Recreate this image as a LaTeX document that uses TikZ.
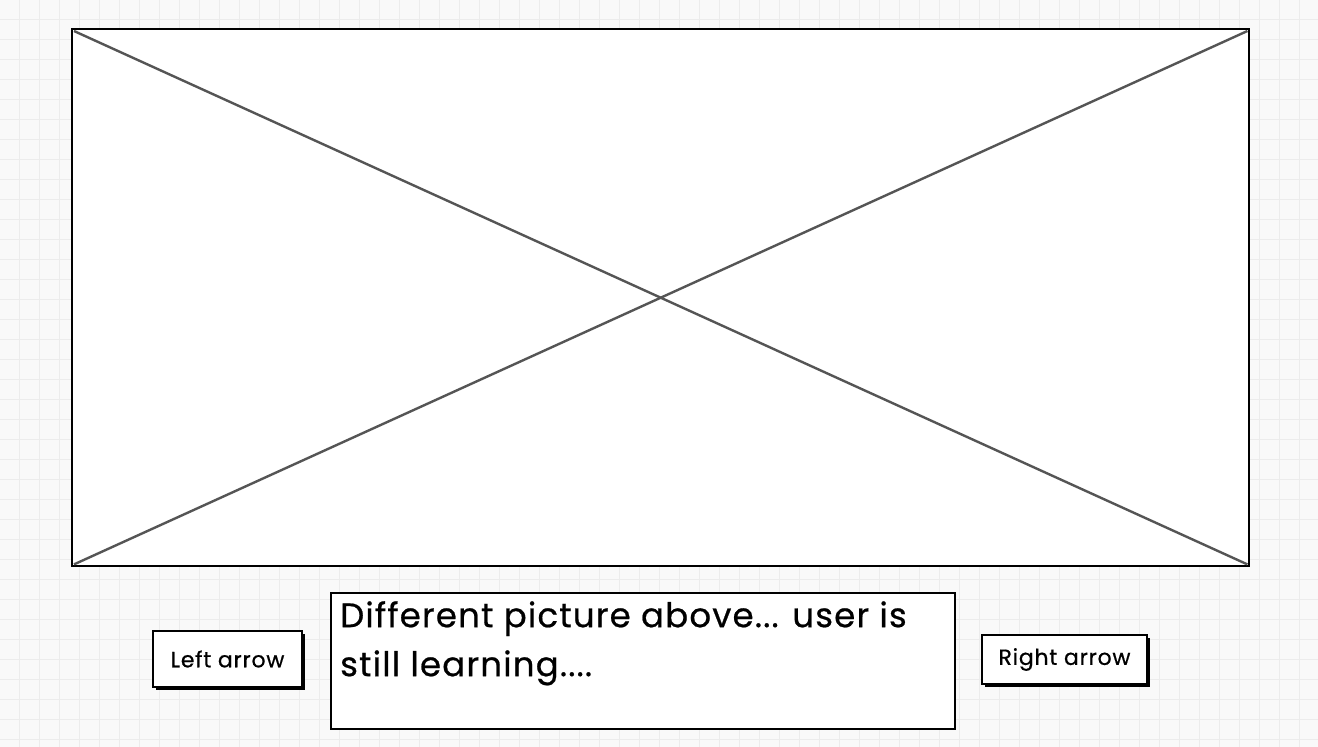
\documentclass[tikz,border=0pt]{standalone}
\usepackage{fontspec}
\setmainfont{Poppins}[FakeBold=0.6, LetterSpace=3.5]
\usetikzlibrary{calc}
\usetikzlibrary{positioning}

\definecolor{paper}{HTML}{F9F9F9}
\definecolor{gridline}{HTML}{ECECEC}
\definecolor{crossline}{HTML}{555555}

\tikzset{
 imgbox/.style={draw=black, line width=2.4pt, fill=white, inner sep=0, minimum width=1177pt, minimum height=537pt},
 btnbox/.style={draw=black, line width=2pt, fill=white, inner sep=0, font=\fontsize{22}{26}\selectfont},
 btnshadow/.style={fill=black},
 txtbox/.style={draw=black, line width=2.2pt, fill=white, inner sep=0, minimum width=624pt, minimum height=136pt},
}

\begin{document}
\begin{tikzpicture} [x=1pt, y=-1pt]
\useasboundingbox (0,0) rectangle (1318,747);
\fill[paper] (0,0) rectangle (1318,747);
\foreach \i in {0,...,65} {
 \draw[gridline, line width=1pt] (19+20*\i,0) -- (19+20*\i,747);
}
\foreach \i in {0,...,37} {
 \draw[gridline, line width=1pt] (0,19+20*\i) -- (1318,19+20*\i);
}

% picture placeholder
\node[imgbox, anchor=north west] (img) at (71,28) {};
\draw[crossline, line width=2.4pt] ($(img.north west)+(3,3)$) -- ($(img.south east)+(-3,-3)$);
\draw[crossline, line width=2.4pt] ($(img.south west)+(3,-3)$) -- ($(img.north east)+(-3,3)$);

% buttons
\foreach \name/\x/\y/\w/\h/\txt in {left/152/630/149/56/Left arrow, right/981/634/165/49/Right arrow} {
 \fill[btnshadow] (\x+4,\y+4) rectangle ++(\w,\h);
 \node[btnbox, anchor=north west, minimum width=\w pt, minimum height=\h pt] (\name) at (\x,\y) {\txt};
}

% caption
\node[txtbox, anchor=north west] (cap) at (330,592) {};
\node[anchor=north west, inner sep=0, align=left, font=\fontsize{34}{49}\selectfont] (captxt) at ($(cap.north west)+(10,9)$) {Different picture above... user is\\still learning....};
\end{tikzpicture}
\end{document}
